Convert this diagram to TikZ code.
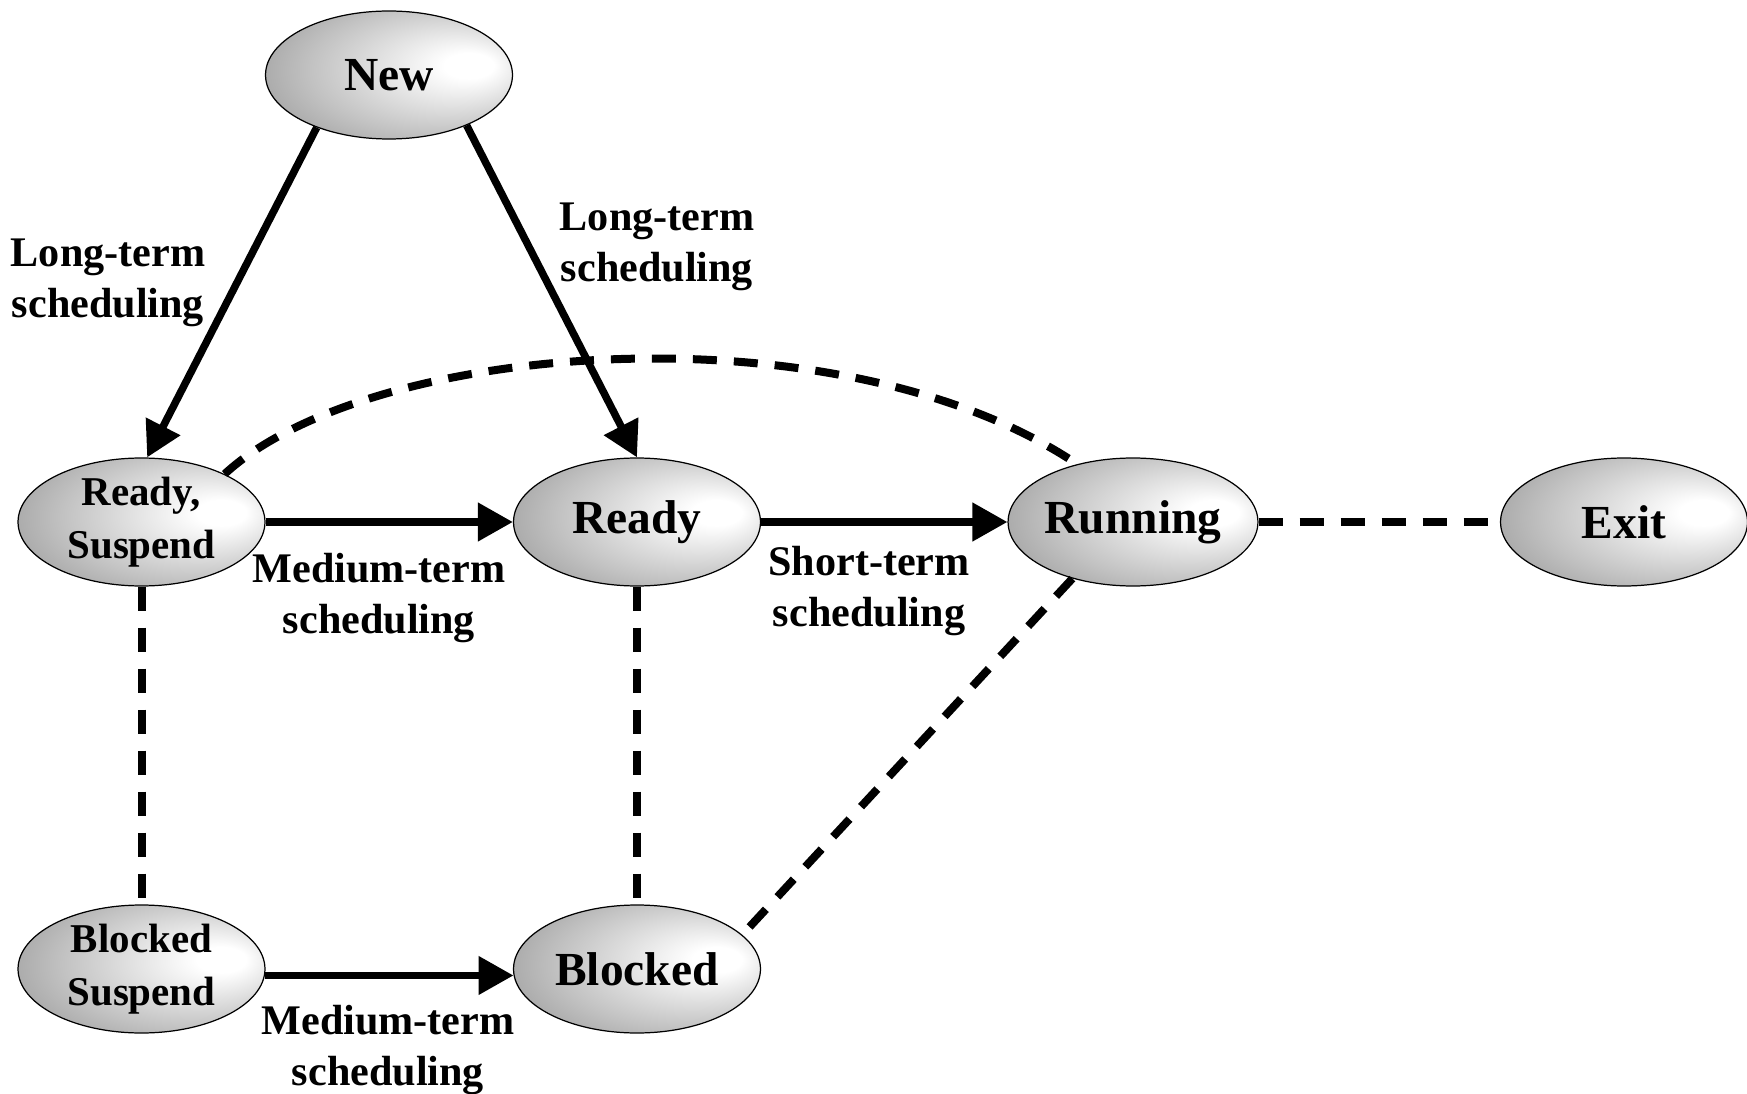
\documentclass[tikz,border=0pt]{standalone}
\usepackage{fontspec}
\setmainfont{Liberation Serif}
\usetikzlibrary{arrows.meta,shapes.geometric}

% grey oval fill with an off-centre white highlight
\pgfdeclareradialshading{ovalshade}{\pgfpoint{18bp}{4bp}}{%
  color(0bp)=(white); color(5bp)=(white); color(25bp)=(black!24); color(50bp)=(black!56)}

\begin{document}
\begin{tikzpicture}[x=0.02cm,y=-0.02cm,
  state/.style={ellipse, draw=black, line width=0.7pt, shading=ovalshade,
    minimum width=4.94cm, minimum height=2.56cm, inner sep=0pt, align=center},
  bigtext/.style={font=\fontsize{27pt}{32pt}\selectfont\bfseries},
  twoline/.style={font=\fontsize{23.3pt}{30pt}\selectfont\bfseries},
  lbl/.style={align=center, inner sep=0pt, font=\fontsize{24pt}{29pt}\selectfont\bfseries},
  flow/.style={line width=0.15cm, -{Triangle[length=0.7cm,width=0.74cm]}},
  link/.style={line width=0.16cm, dash pattern=on 0.48cm off 0.34cm}]

\useasboundingbox (0,0) rectangle (1747,1094);

% states
\node[state, bigtext] (new) at (389,75)    {New};
\node[state, twoline] (rs)  at (141.5,522) {Ready,\\Suspend};
\node[state, bigtext] (rdy) at (637,522)   {Ready};
\node[state, bigtext] (run) at (1133,522)  {Running};
\node[state, bigtext] (ext) at (1624,522)  {Exit};
\node[state, twoline] (bs)  at (141.5,969) {Blocked\\Suspend};
\node[state, bigtext] (blk) at (637,969)   {Blocked};

% scheduling transitions
\draw[flow] (new.216) -- (rs.85);
\draw[flow] (new.327) -- (rdy.north);
\draw[flow] (rs.east) -- (rdy.west);
\draw[flow] (rdy.east) -- (run.west);
\draw[flow] (bs.-3.5) -- (blk.183.5);

% other transitions
\draw[link] (rs.south) -- (bs.north);
\draw[link] (rdy.south) -- (blk.north);
\draw[link] (run.east) -- (ext.west);
\draw[link] (run.223) -- (blk.18);
\draw[link] (rs.30) .. controls (370,340) and (840,305) .. (run.134);

% labels
\node[lbl] (l1) at (108,283)  {Long-term\\scheduling};
\node[lbl] (l2) at (657,247)  {Long-term\\scheduling};
\node[lbl] (l3) at (379,598)  {Medium-term\\scheduling};
\node[lbl] (l4) at (869,591)  {Short-term\\scheduling};
\node[lbl] (l5) at (388,1050) {Medium-term\\scheduling};

\end{tikzpicture}
\end{document}
